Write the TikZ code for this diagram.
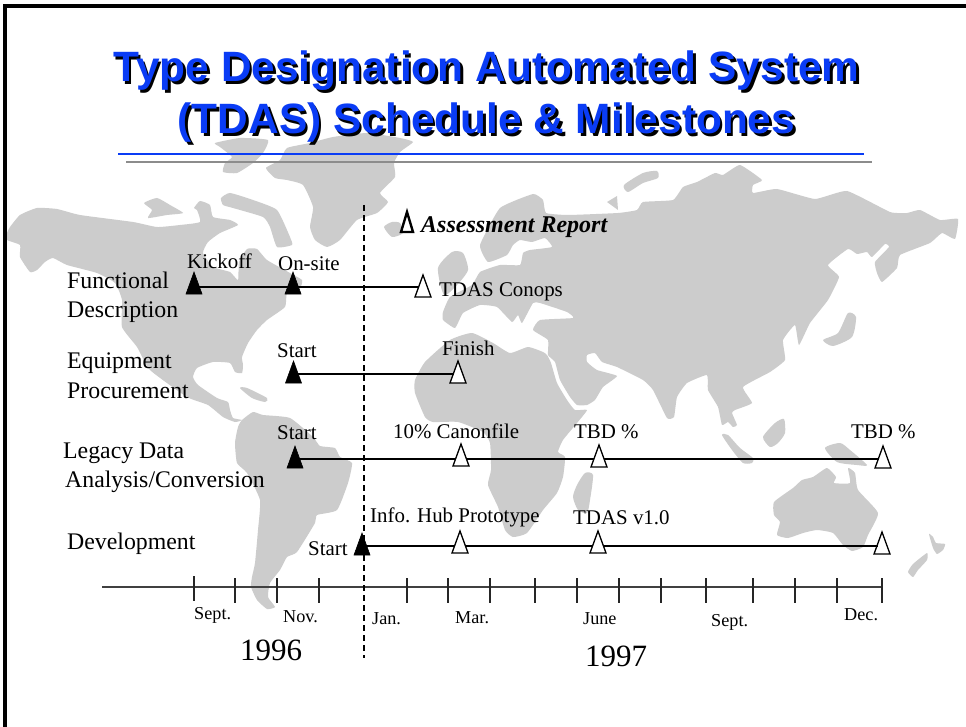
\documentclass[tikz,border=0pt]{standalone}
\usepackage{fontspec}
\setmainfont{Liberation Serif}
\newfontfamily\titlefont{Liberation Sans}
\usetikzlibrary{backgrounds}
\usetikzlibrary{shapes.geometric}
\definecolor{landgray}{HTML}{CCCCCC}
\definecolor{titleblue}{HTML}{0A3CF5}
\tikzset{land/.style={fill=landgray,draw=none},
 headline/.style={font=\titlefont\bfseries\fontsize{42.4}{52}\selectfont,align=center,inner sep=0pt},
 rowname/.style={anchor=base west,inner sep=0pt,align=left,font=\fontsize{23.8}{29.5}\selectfont},
 mark label/.style={anchor=base west,inner sep=0pt,font=\fontsize{20.9}{24}\selectfont},
 month/.style={anchor=base west,inner sep=0pt,font=\fontsize{18.2}{22}\selectfont},
 yearname/.style={anchor=base west,inner sep=0pt,font=\fontsize{31}{36}\selectfont},
 mile/.style={shape=isosceles triangle,shape border rotate=90,isosceles triangle stretches,
 minimum width=16pt,minimum height=22pt,inner sep=0pt,outer sep=0pt,anchor=lower side},
 done/.style={mile,fill=black,draw=black,line width=0.6pt},
 todo/.style={mile,fill=white,draw=black,line width=1.3pt},
 track/.style={draw=black,line width=2.3pt},
 tick/.style={draw=black!75,line width=1.2pt},
 }
\begin{document}
\begin{tikzpicture}[x=1pt,y=-1pt]
        \useasboundingbox (0,0) rectangle (966,727);
        % rows
        \coordinate (rowa) at (0,287);
        \coordinate (rowb) at (0,374);
        \coordinate (rowc) at (0,459);
        \coordinate (rowd) at (0,546);
        % milestones
        \node[done] (kickoff) at (194,294) {};
        \node[done] (onsite) at (293,294) {};
        \node[todo] (conops) at (423,297) {};
        \node[done] (equipstart) at (293.5,383) {};
        \node[todo] (finish) at (458,383) {};
        \node[done] (legacystart) at (295,468) {};
        \node[todo] (canonfile) at (461,466) {};
        \node[todo] (tbdone) at (599,467) {};
        \node[todo] (tbdtwo) at (883,468) {};
        \node[done] (devstart) at (362,555) {};
        \node[todo] (hubproto) at (460,553) {};
        \node[todo] (versionone) at (598,553) {};
        \node[todo] (devend) at (882,554) {};
        \begin{scope}[on background layer]
            \fill[white] (0,0) rectangle (966,727);
            % north america
            \fill[land] plot[smooth cycle,tension=0.3] coordinates {(7,233) (7,240) (20,245) (20,257) (30,272) (37,270) (45,262) (53,258) (67,265) (97,273) (115,283) (122,300) (122,327) (137,347) (150,370) (187,397) (208,405) (223,417) (235,422) (242,420) (233,418) (230,410) (228,402) (217,398) (198,385) (193,377) (197,368) (213,362) (230,363) (235,372) (242,373) (243,365) (242,357) (248,343) (257,330) (267,320) (285,307) (287,293) (300,288) (302,280) (290,273) (267,260) (257,249) (247,249) (239,262) (238,280) (230,272) (213,267) (203,253) (208,242) (220,233) (238,225) (230,220) (213,217) (210,205) (200,201) (194,208) (197,210) (200,222) (180,225) (157,227) (133,222) (80,215) (57,209) (37,208) (20,215) (10,227)};
            \fill[land] plot[smooth cycle,tension=0.3] coordinates {(144,203) (157,198) (170,205) (183,213) (167,215) (148,218) (152,210)};
            \fill[land] plot[smooth cycle,tension=0.3] coordinates {(221,198) (230,193) (253,200) (277,210) (290,237) (292,245) (277,247) (270,227) (263,217) (233,208) (223,205)};
            \fill[land] plot[smooth cycle,tension=0.3] coordinates {(215,143) (240,138) (268,140) (263,153) (253,163) (237,173) (223,172) (225,163) (232,157) (220,147)};
            % greenland, iceland
            \fill[land] plot[smooth cycle,tension=0.3] coordinates {(413,142) (400,152) (394,163) (395,177) (380,193) (388,202) (377,213) (357,220) (340,240) (327,247) (315,240) (310,227) (313,207) (303,185) (287,180) (275,178) (266,168) (280,160) (287,148) (310,143) (333,137) (367,133) (400,138)};
            \fill[land] plot[smooth cycle,tension=0.4] coordinates {(384,227) (392,222) (400,223) (403,233) (392,237)};
            % south america, cuba
            \fill[land] plot[smooth cycle,tension=0.3] coordinates {(242,420) (253,412) (263,415) (290,418) (313,437) (320,446) (335,448) (340,457) (352,463) (348,483) (337,510) (317,515) (315,523) (297,552) (287,557) (280,570) (270,583) (268,597) (275,607) (267,609) (257,600) (251,587) (252,577) (255,563) (258,530) (260,500) (247,473) (237,463) (235,443) (238,427)};
            \fill[land] plot[smooth cycle,tension=0.4] coordinates {(240,388) (247,388) (267,398) (265,402) (252,398)};
            % eurasia
            \fill[land] plot[smooth cycle,tension=0.25] coordinates {(480,245) (500,208) (533,194) (543,200) (546,213) (568,215) (618,213) (637,210) (643,202) (673,200) (683,187) (697,182) (715,173) (723,175) (740,165) (762,180) (753,185) (753,193) (777,189) (815,199) (847,191) (890,212) (907,213) (920,210) (940,220) (958,219) (955,239) (942,233) (930,243) (900,255) (897,268) (882,282) (877,273) (875,262) (889,247) (885,244) (872,257) (867,252) (857,254) (848,249) (828,265) (839,277) (828,300) (810,323) (799,345) (795,325) (783,340) (785,360) (770,372) (743,387) (752,403) (735,410) (732,413) (737,425) (733,427) (728,422) (722,425) (718,407) (708,390) (707,375) (687,383) (677,397) (674,417) (667,418) (653,390) (643,380) (617,367) (602,362) (595,353) (587,355) (587,362) (597,370) (617,376) (603,387) (595,400) (587,405) (577,405) (570,397) (560,380) (555,362) (548,355) (548,340) (533,330) (540,320) (573,318) (567,312) (540,303) (533,303) (522,323) (518,315) (512,322) (497,307) (480,305) (463,313) (455,328) (443,320) (443,312) (450,297) (472,285) (480,272) (500,265) (520,265) (523,253) (530,250) (552,247) (545,238) (532,242) (520,240) (513,245) (507,255) (488,262)};
            \fill[land] plot[smooth cycle,tension=0.4] coordinates {(438,268) (452,252) (463,253) (468,270) (457,285) (444,295)};
            \fill[land] plot[smooth cycle,tension=0.4] coordinates {(624,185) (643,173) (657,171) (658,178) (643,183) (628,192)};
            \fill[land] (607,202) -- (617,196) -- (618,210) -- cycle;
            % africa, madagascar
            \fill[land] plot[smooth cycle,tension=0.3] coordinates {(547,355) (543,352) (528,347) (510,353) (493,343) (472,333) (450,340) (425,362) (415,380) (415,393) (425,417) (433,422) (458,422) (483,432) (490,443) (491,470) (488,485) (498,507) (505,530) (513,537) (527,533) (543,510) (557,493) (563,477) (565,457) (558,452) (563,440) (577,423) (587,410) (575,410) (567,400) (557,383) (551,363)};
            \fill[land] plot[smooth cycle,tension=0.4] coordinates {(585,473) (593,475) (590,500) (587,513) (578,510) (573,497) (577,485)};
            % islands in the east
            \fill[land] plot[smooth cycle,tension=0.4] coordinates {(823,340) (838,333) (848,313) (856,317) (852,337) (833,346)};
            \fill[land] plot[smooth cycle,tension=0.4] coordinates {(722,435) (728,435) (740,448) (753,458) (752,463) (743,463) (732,450)};
            \fill[land] plot[smooth cycle,tension=0.4] coordinates {(763,437) (775,423) (784,419) (785,433) (778,443) (770,447)};
            \fill[land] plot[smooth cycle,tension=0.4] coordinates {(825,448) (840,443) (850,450) (867,465) (857,465) (837,462)};
            \fill[land] plot[smooth cycle,tension=0.3] coordinates {(774,502) (793,488) (802,480) (813,477) (827,468) (836,477) (834,483) (850,483) (848,468) (855,473) (858,490) (878,513) (868,535) (863,547) (852,551) (843,545) (833,533) (817,530) (803,533) (788,538) (777,535) (780,522) (774,515)};
            \fill[land] plot[smooth cycle,tension=0.3] coordinates {(929,534) (933,537) (936,543) (945,544) (943,550) (937,554) (933,548)};
            \fill[land] plot[smooth cycle,tension=0.3] coordinates {(927,553) (927,560) (918,570) (913,577) (908,572) (913,564)};
            % tracks
            \draw[track] (kickoff.center |- rowa) -- (conops.center |- rowa);
            \draw[track] (equipstart.center |- rowb) -- (finish.center |- rowb);
            \draw[track] (legacystart.center |- rowc) -- (tbdtwo.center |- rowc);
            \draw[track] (devstart.center |- rowd) -- (devend.center |- rowd);
        \end{scope}
        \foreach \n/\r in {conops/rowa, finish/rowb, tbdtwo/rowc, devend/rowd} {
            \draw[track] ([xshift=-9pt]\n.center |- \r) -- ([xshift=-4pt]\n.center |- \r);
        }
        % frame
        \draw[line width=3.5pt] (5,727) -- (5,6) -- (966,6);
        % title
        \node[headline,text=black] (titleshadow) at (489,99.5) {Type Designation Automated System\\(TDAS) Schedule \& Milestones};
        \node[headline,text=titleblue] (titlemain) at (486.5,97) {Type Designation Automated System\\(TDAS) Schedule \& Milestones};
        \draw[titleblue,line width=2.6pt] (118,154) -- (864,154);
        \draw[black!45,line width=2.8pt] (126,162) -- (872,162);
        % axis
        \draw[tick] (102,587) -- (882,587);
        \foreach \x in {235,277,319,407,448,490,535,577,619,661,706,753,795,837,882} {
            \draw[tick,black!85] (\x,578) -- (\x,603);
        }
        \draw[tick,black!85] (194,576) -- (194,601);
        \draw[line width=1.7pt,dash pattern=on 6pt off 4pt] (364,205) -- (364,658);
        % assessment
        \node[mile,draw=black,line width=2.4pt,minimum width=12pt,minimum height=20pt] (assess) at (407,232) {};
        \node[anchor=base west,inner sep=0pt,font=\bfseries\itshape\fontsize{24}{28}\selectfont] (assesslabel) at (421,233) {Assessment Report};
        % row names
        \node[rowname] (funcname) at (67,288) {Functional};
        \node[rowname] (descname) at (67,317) {Description};
        \node[rowname] (equipname) at (67,368) {Equipment};
        \node[rowname] (procname) at (67,398) {Procurement};
        \node[rowname] (legacyname) at (63,458) {Legacy Data};
        \node[rowname] (analysisname) at (65,487) {Analysis/Conversion};
        \node[rowname] (devname) at (67,549) {Development};
        % milestone labels
        \node[mark label] (kickofflabel) at (187,269) {Kickoff};
        \node[mark label] (onsitelabel) at (278,270) {On-site};
        \node[mark label] (conopslabel) at (439,296) {TDAS Conops};
        \node[mark label] (equipstartlabel) at (277,357) {Start};
        \node[mark label] (finishlabel) at (442,355) {Finish};
        \node[mark label] (legacystartlabel) at (277,439) {Start};
        \node[mark label] (canonlabel) at (393,438) {10\% Canonfile};
        \node[mark label] (tbdonelabel) at (574,438) {TBD \%};
        \node[mark label] (tbdtwolabel) at (851,438) {TBD \%};
        \node[mark label] (hublabel) at (370,522) {Info. Hub Prototype};
        \node[mark label] (versionlabel) at (573,524) {TDAS v1.0};
        \node[mark label] (devstartlabel) at (308,555) {Start};
        % months and years
        \node[month] (septsix) at (194,619) {Sept.};
        \node[month] (novsix) at (283,622) {Nov.};
        \node[month] (janseven) at (372,624) {Jan.};
        \node[month] (marseven) at (455,623) {Mar.};
        \node[month] (juneseven) at (583,624) {June};
        \node[month] (septseven) at (711,626) {Sept.};
        \node[month] (decseven) at (844,620) {Dec.};
        \node[yearname] (yearsix) at (240,660) {1996};
        \node[yearname] (yearseven) at (585,666) {1997};
    \end{tikzpicture}
\end{document}
